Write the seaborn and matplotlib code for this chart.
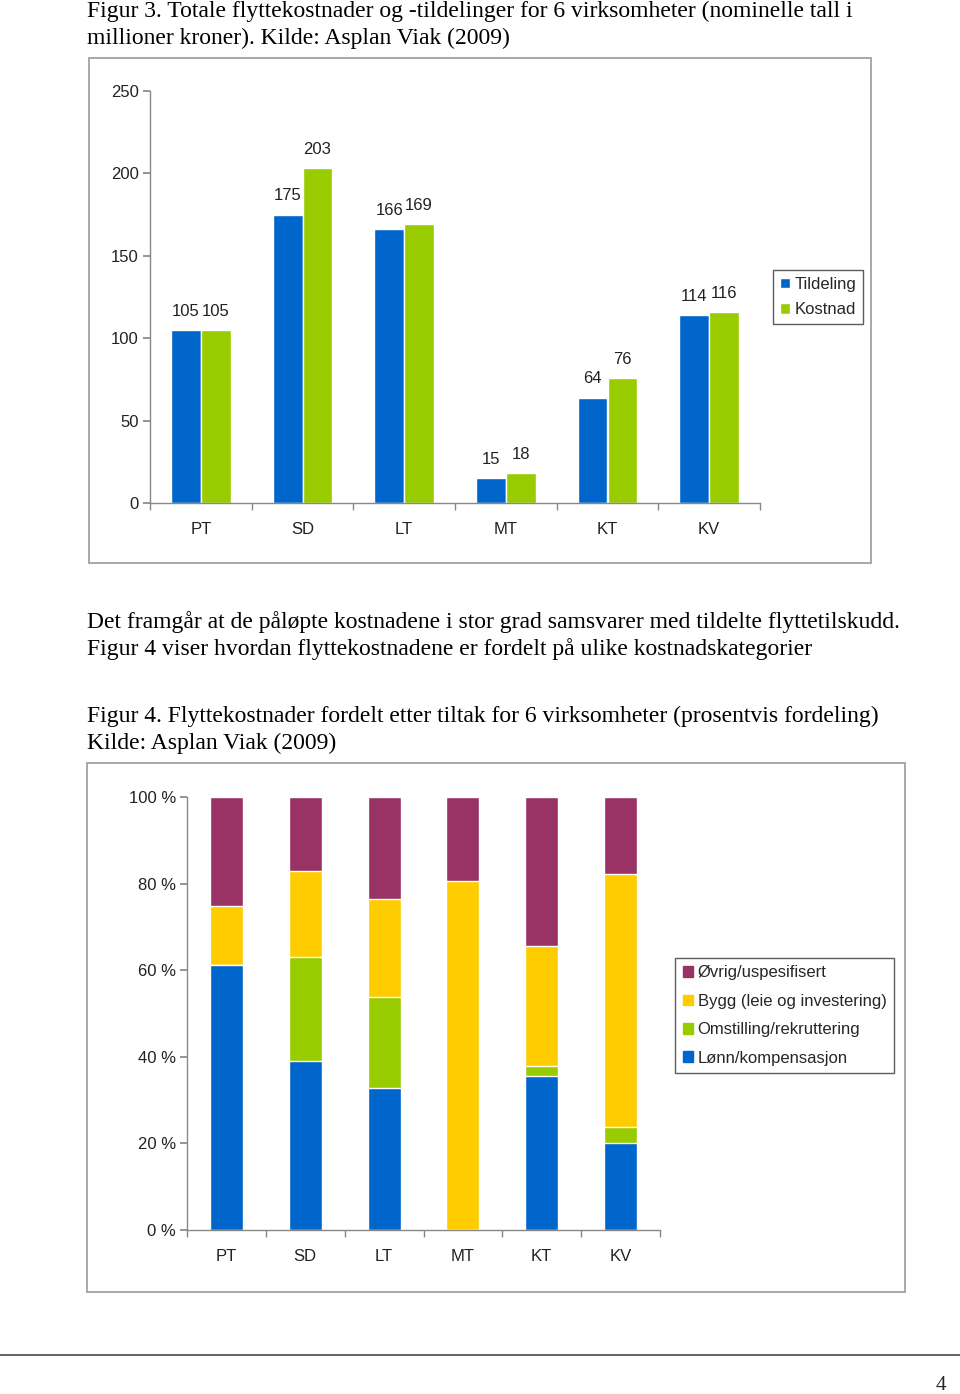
import matplotlib
matplotlib.use("Agg")
import matplotlib.pyplot as plt
import matplotlib.patches as mpatches
import seaborn as sns
import pandas as pd
import numpy as np

# ---------------- data ----------------
categories = ["PT", "SD", "LT", "MT", "KT", "KV"]
tildeling = [105, 175, 166, 15, 64, 114]
kostnad = [105, 203, 169, 18, 76, 116]

# figure 4: percentage shares
lonn = [61.3, 39.1, 32.7, 0.0, 35.5, 20.0]
omstilling = [0.0, 23.9, 21.2, 0.0, 2.4, 3.8]
bygg = [13.6, 19.9, 22.6, 80.7, 27.6, 58.4]
ovrig = [25.1, 17.1, 23.5, 19.3, 34.5, 17.8]

series2 = ["Lønn/kompensasjon", "Omstilling/rekruttering", "Bygg (leie og investering)", "Øvrig/uspesifisert"]
y_ticks1 = [0, 50, 100, 150, 200, 250]
y_ticks2 = [0, 20, 40, 60, 80, 100]

caption1 = ["Figur 3. Totale flyttekostnader og -tildelinger for 6 virksomheter (nominelle tall i",
            "millioner kroner). Kilde: Asplan Viak (2009)"]
body = ["Det framgår at de påløpte kostnadene i stor grad samsvarer med tildelte flyttetilskudd.",
        "Figur 4 viser hvordan flyttekostnadene er fordelt på ulike kostnadskategorier"]
caption2 = ["Figur 4. Flyttekostnader fordelt etter tiltak for 6 virksomheter (prosentvis fordeling)",
            "Kilde: Asplan Viak (2009)"]

BLUE = "#0066CC"
GREEN = "#99CC00"
YELLOW = "#FFCC00"
PURPLE = "#993366"

sns.set_theme(style="white")
plt.rcParams["font.family"] = ["Liberation Sans", "DejaVu Sans"]

W, H = 960, 1394
fig = plt.figure(figsize=(W / 100, H / 100), dpi=100)
fig.patch.set_facecolor("white")

def fx(px):
    return px / W

def fy(py):
    return 1 - py / H

serif = ["Liberation Serif", "DejaVu Serif"]

def page_text(x, y, s, size=17):
    fig.text(fx(x), fy(y), s, family=serif, fontsize=size, va="center", ha="left", color="black")

for i, line in enumerate(caption1):
    page_text(87, 11 + 27 * i, line)
for i, line in enumerate(body):
    page_text(87, 622 + 27 * i, line)
for i, line in enumerate(caption2):
    page_text(87, 716 + 27 * i, line)

# frames around charts
fig.patches.append(mpatches.Rectangle((fx(89), fy(563)), fx(871) - fx(89), fy(58) - fy(563),
                                      transform=fig.transFigure, fill=False, edgecolor="#9a9a9a", lw=1.2))
fig.patches.append(mpatches.Rectangle((fx(87), fy(1292)), fx(905) - fx(87), fy(763) - fy(1292),
                                      transform=fig.transFigure, fill=False, edgecolor="#9a9a9a", lw=1.2))

# bottom rule and page number
fig.add_artist(plt.Line2D([0, 1], [fy(1355), fy(1355)], transform=fig.transFigure, color="#555555", lw=1.3))
fig.text(fx(946), fy(1385), "4", family=serif, fontsize=15, ha="right", va="center")

FS = 12

# --------------- chart 1 ---------------
ax1 = fig.add_axes([fx(150), fy(503), fx(760) - fx(150), fy(91) - fy(503)])
df1 = pd.DataFrame({
    "cat": categories * 2,
    "val": tildeling + kostnad,
    "serie": ["Tildeling"] * len(categories) + ["Kostnad"] * len(categories),
})
sns.barplot(data=df1, x="cat", y="val", hue="serie", palette=[BLUE, GREEN], width=0.59,
            saturation=1, ax=ax1, errorbar=None)
for c in ax1.containers:
    ax1.bar_label(c, fmt="%d", padding=8, fontsize=FS, color="#222222")
ax1.set_ylim(0, 250)
ax1.set_xlim(-0.5, 5.5)
ax1.set_yticks(y_ticks1)
ax1.set_xlabel("")
ax1.set_ylabel("")
for s in ["top", "right"]:
    ax1.spines[s].set_visible(False)
for s in ["left", "bottom"]:
    ax1.spines[s].set_color("#888888")
    ax1.spines[s].set_linewidth(1)
ax1.tick_params(axis="y", length=5, color="#888888", labelsize=FS, labelcolor="#222222", pad=3, left=True)
ax1.tick_params(axis="x", which="major", length=0, labelsize=FS, labelcolor="#222222", pad=14)
ax1.set_xticks(np.arange(-0.5, 6, 1), minor=True)
ax1.tick_params(axis="x", which="minor", length=5, color="#888888", bottom=True)
ax1.legend(loc="upper left", bbox_to_anchor=(fx(773), fy(270)), bbox_transform=fig.transFigure,
           frameon=True, fancybox=False, edgecolor="#333333", fontsize=FS, handlelength=0.6,
           handleheight=0.6, handletextpad=0.3, borderpad=0.4, labelspacing=0.65, borderaxespad=0)

# --------------- chart 2 ---------------
ax2 = fig.add_axes([fx(187), fy(1230), fx(660) - fx(187), fy(797) - fy(1230)])
cum = np.cumsum(np.array([lonn, omstilling, bygg, ovrig]), axis=0)
colors2 = [BLUE, GREEN, YELLOW, PURPLE]
for k in range(3, -1, -1):
    sns.barplot(x=categories, y=cum[k], color=colors2[k], width=0.42, saturation=1, ax=ax2, errorbar=None)
ax2.set_ylim(0, 100)
ax2.set_xlim(-0.5, 5.5)
ax2.set_yticks(y_ticks2)
ax2.set_yticklabels([f"{v} %" for v in y_ticks2])
for s in ["top", "right"]:
    ax2.spines[s].set_visible(False)
for s in ["left", "bottom"]:
    ax2.spines[s].set_color("#888888")
    ax2.spines[s].set_linewidth(1)
ax2.tick_params(axis="y", length=5, color="#888888", labelsize=FS, labelcolor="#222222", pad=3, left=True)
ax2.tick_params(axis="x", which="major", length=0, labelsize=FS, labelcolor="#222222", pad=14)
ax2.set_xticks(np.arange(-0.5, 6, 1), minor=True)
ax2.tick_params(axis="x", which="minor", length=5, color="#888888", bottom=True)
handles = [mpatches.Patch(color=colors2[k], label=series2[k]) for k in range(3, -1, -1)]
ax2.legend(handles=handles, loc="upper left", bbox_to_anchor=(fx(675), fy(958)), bbox_transform=fig.transFigure,
           frameon=True, fancybox=False, edgecolor="#333333", fontsize=FS, handlelength=0.6,
           handleheight=0.6, handletextpad=0.3, borderpad=0.45, labelspacing=0.8, borderaxespad=0)

fig.savefig("out.png", dpi=100, facecolor="white")
